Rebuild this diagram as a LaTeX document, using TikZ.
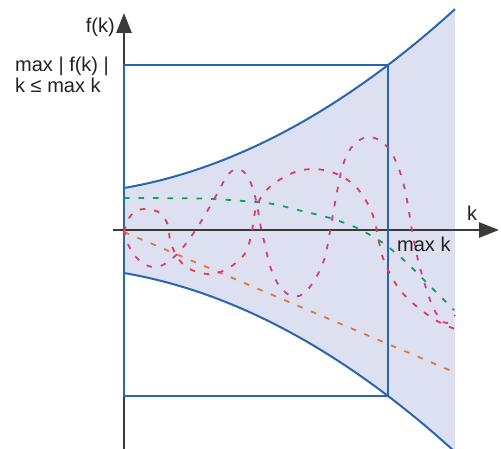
\documentclass[tikz,border=0pt]{standalone}
\usepackage{fontspec}
\setmainfont{Liberation Sans}
\usetikzlibrary{arrows.meta}
\definecolor{bandfill}{HTML}{DDE0F0}
\definecolor{boundblue}{HTML}{2A66B0}
\definecolor{axisgray}{HTML}{3A3A37}
\definecolor{labelgray}{HTML}{222222}
\definecolor{cgreen}{HTML}{10A064}
\definecolor{corange}{HTML}{E0783A}
\definecolor{cred}{HTML}{E83A4C}
\definecolor{cmagenta}{HTML}{D63C8E}
\begin{document}
\begin{tikzpicture}[x=1pt,y=-1pt,
  axisline/.style={line width=2.6pt, draw=axisgray, -{Triangle[length=20pt,width=15pt]}},
  bound/.style={line width=2pt, draw=boundblue},
  dcurve/.style={line width=1.8pt, dash pattern=on 5.5pt off 9pt},
  lbl/.style={font=\fontsize{20}{24}\selectfont, inner sep=0pt, text=labelgray}]
\useasboundingbox (0,0) rectangle (501,449);
% band
\fill[bandfill] plot[domain=0:331, samples=60] ({124+\x}, {230-(42+0.1718*\x+0.001115*\x*\x)})
  -- plot[domain=331:0, samples=60] ({124+\x}, {231+(42+0.1718*\x+0.001115*\x*\x)}) -- cycle;
% axes
\coordinate (ybot) at (124,449);
\coordinate (ytop) at (124,13);
\coordinate (xleft) at (113,230);
\coordinate (xright) at (499,230);
\draw[axisline] (ybot) -- (ytop);
\draw[axisline] (xleft) -- (xright);
% rectangle
\coordinate (rtl) at (124,65);
\coordinate (rbr) at (388,396);
\draw[bound] (rtl) rectangle (rbr);
% bounds
\draw[bound] plot[domain=0:331, samples=60] ({124+\x}, {230-(42+0.1718*\x+0.001115*\x*\x)});
\draw[bound] plot[domain=0:331, samples=60] ({124+\x}, {231+(42+0.1718*\x+0.001115*\x*\x)});
% dashed curves
\draw[dcurve, corange] (124,232) -- (454,372);
\draw[dcurve, cgreen] plot[smooth] coordinates {(124,198) (200,198.5) (243,201) (273,204) (302,211) (330,218) (357,228) (383,243) (406,262) (427,283) (447,303) (454,310)};
\draw[dcurve, cred] plot[smooth, tension=0.55] coordinates {(124,232) (129,218) (136,211) (147,209) (160,213) (168,225) (170,240) (176,255) (185,266) (197,272) (210,274) (223,271) (237,262) (247,250) (252,230) (256,208) (264,193) (276,182) (295,172) (312,169) (328,171) (343,177) (357,188) (369,206) (375,222) (378,237) (382,255) (389,272) (400,290) (415,305) (432,318) (445,325) (455,329)};
\draw[dcurve, cmagenta] plot[smooth, tension=0.55] coordinates {(124,230) (128,244) (135,256) (146,265) (157,267) (168,262) (178,253) (188,241) (202,220) (217,194) (227,176) (236,169) (245,173) (252,186) (257,205) (261,228) (265,245) (270,266) (278,284) (289,295) (299,296) (309,288) (318,274) (325,257) (329,237) (333,214) (337,192) (342,168) (349,151) (358,141) (369,137) (381,141) (391,152) (399,169) (405,190) (409,212) (413,236) (418,260) (425,285) (432,305) (440,319) (447,323) (455,315)};
% labels
\node[lbl, anchor=base east] (fk) at (115,33) {f(k)};
\node[lbl, anchor=base west] (maxf) at (15,72) {max | f(k) |};
\node[lbl, anchor=base west] (kle) at (15,93) {k ≤ max k};
\node[lbl, anchor=base west] (kx) at (467,221) {k};
\node[lbl, anchor=base west] (maxk) at (397,252) {max k};
\end{tikzpicture}
\end{document}
